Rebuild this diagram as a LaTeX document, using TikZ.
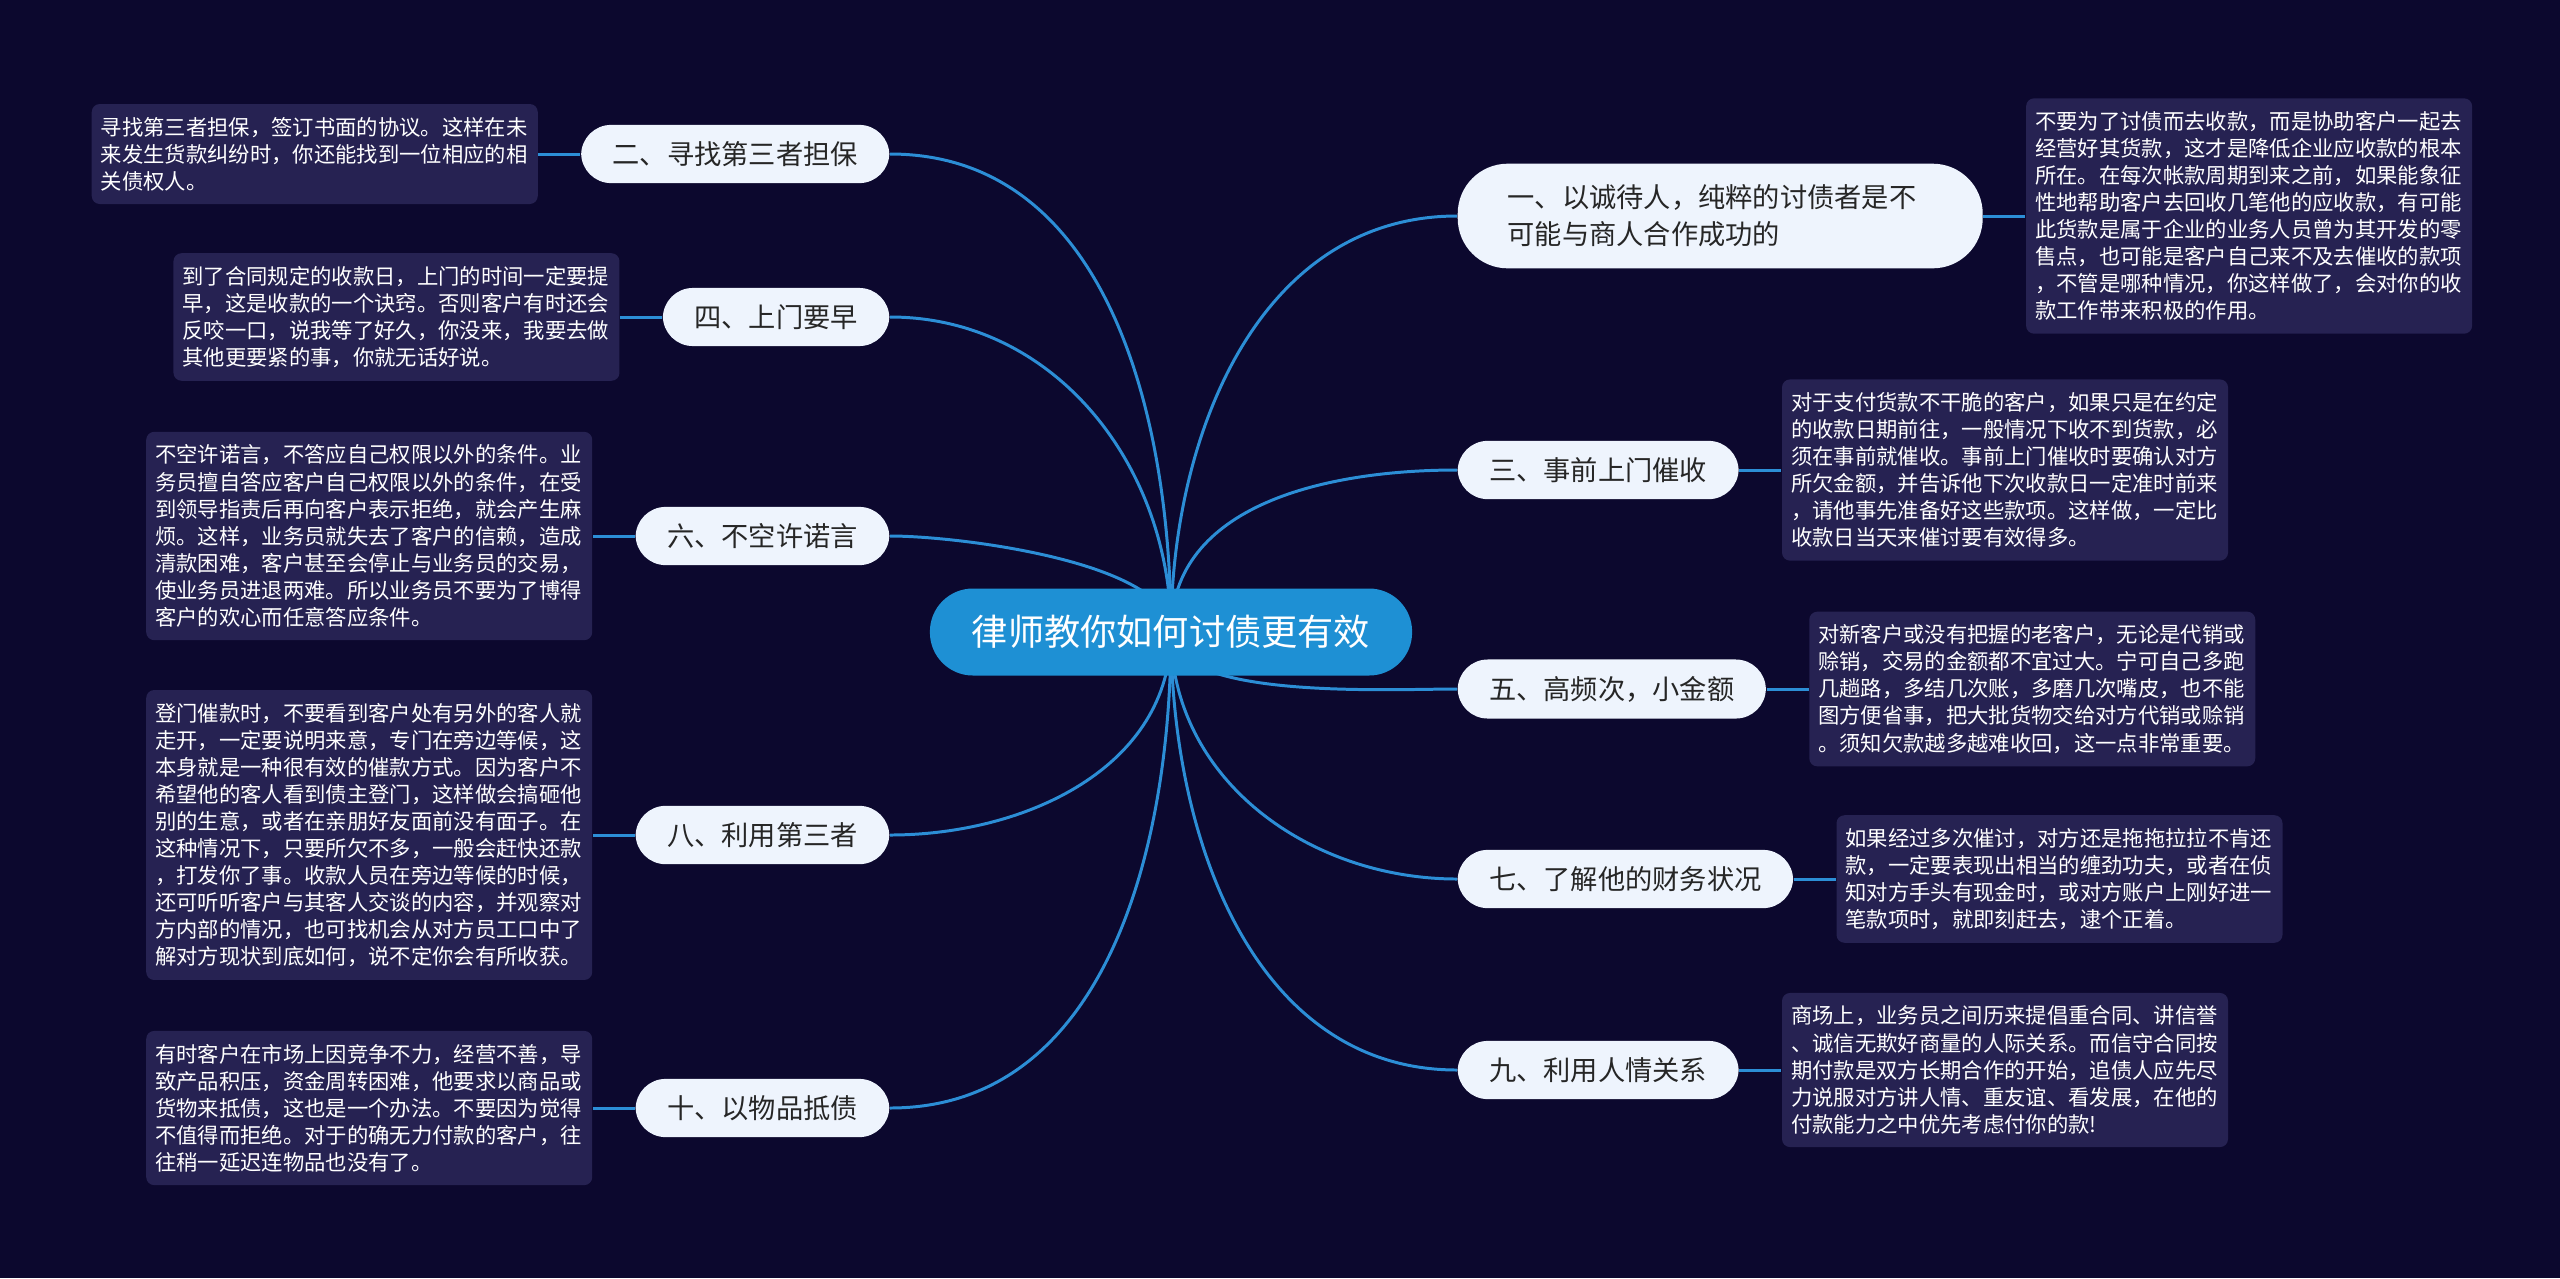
\documentclass[tikz,border=0pt]{standalone}
\usepackage{fontspec}
\newfontfamily\cjk{Noto Sans CJK SC}
\usepackage{tikz}
\usetikzlibrary{positioning}
\usetikzlibrary{backgrounds}

\definecolor{bgnavy}{RGB}{12,8,46}
\definecolor{rootblue}{RGB}{30,144,212}
\definecolor{linkblue}{RGB}{44,142,214}
\definecolor{topicpale}{RGB}{238,244,253}
\definecolor{notebox}{RGB}{38,34,82}

\begin{document}
\begin{tikzpicture}[
	root/.style={fill=rootblue, text=white, rounded corners=0.43cm, inner xsep=0.42cm, minimum height=0.87cm, font=\cjk\fontsize{10.3pt}{12pt}\selectfont},
	topic/.style={fill=topicpale, text=black!85, rounded corners=0.3cm, inner xsep=0.315cm, inner ysep=0.165cm, font=\cjk\fontsize{7.75pt}{10.6pt}\selectfont},
	note/.style={fill=notebox, text=white, rounded corners=0.08cm, text width=4.28cm, align=left, inner xsep=0.09cm, inner ysep=0.13cm, font=\cjk\fontsize{6.07pt}{7.7pt}\selectfont},
	link/.style={color=linkblue, line width=0.85pt},
	node distance=0.42cm
]
\useasboundingbox (0,0) rectangle (25.6,-12.78);

% centre
\node[root] (root) at (11.71,-6.32) {律师教你如何讨债更有效};

% left topics
\node[topic, anchor=east] (b2) at (8.90,-1.54) {二、寻找第三者担保};
\node[topic, anchor=east] (b4) at (8.90,-3.17) {四、上门要早};
\node[topic, anchor=east] (b6) at (8.90,-5.36) {六、不空许诺言};
\node[topic, anchor=east] (b8) at (8.90,-8.35) {八、利用第三者};
\node[topic, anchor=east] (b10) at (8.90,-11.08) {十、以物品抵债};

% right topics
\node[topic, anchor=west, text width=4.25cm, align=left, inner xsep=0.5cm, inner ysep=0.21cm, rounded corners=0.5cm] (b1) at (14.57,-2.16) {一、以诚待人，纯粹的讨债者是不\\可能与商人合作成功的};
\node[topic, anchor=west] (b3) at (14.57,-4.70) {三、事前上门催收};
\node[topic, anchor=west] (b5) at (14.57,-6.89) {五、高频次，小金额};
\node[topic, anchor=west] (b7) at (14.57,-8.79) {七、了解他的财务状况};
\node[topic, anchor=west] (b9) at (14.57,-10.70) {九、利用人情关系};

% notes
\node[note, left=of b2] (n2) {寻找第三者担保，签订书面的协议。这样在未\\来发生货款纠纷时，你还能找到一位相应的相\\关债权人。};
\node[note, left=of b4] (n4) {到了合同规定的收款日，上门的时间一定要提\\早，这是收款的一个诀窍。否则客户有时还会\\反咬一口，说我等了好久，你没来，我要去做\\其他更要紧的事，你就无话好说。};
\node[note, left=of b6] (n6) {不空许诺言，不答应自己权限以外的条件。业\\务员擅自答应客户自己权限以外的条件，在受\\到领导指责后再向客户表示拒绝，就会产生麻\\烦。这样，业务员就失去了客户的信赖，造成\\清款困难，客户甚至会停止与业务员的交易，\\使业务员进退两难。所以业务员不要为了博得\\客户的欢心而任意答应条件。};
\node[note, left=of b8] (n8) {登门催款时，不要看到客户处有另外的客人就\\走开，一定要说明来意，专门在旁边等候，这\\本身就是一种很有效的催款方式。因为客户不\\希望他的客人看到债主登门，这样做会搞砸他\\别的生意，或者在亲朋好友面前没有面子。在\\这种情况下，只要所欠不多，一般会赶快还款\\，打发你了事。收款人员在旁边等候的时候，\\还可听听客户与其客人交谈的内容，并观察对\\方内部的情况，也可找机会从对方员工口中了\\解对方现状到底如何，说不定你会有所收获。};
\node[note, left=of b10] (n10) {有时客户在市场上因竞争不力，经营不善，导\\致产品积压，资金周转困难，他要求以商品或\\货物来抵债，这也是一个办法。不要因为觉得\\不值得而拒绝。对于的确无力付款的客户，往\\往稍一延迟连物品也没有了。};
\node[note, right=of b1] (n1) {不要为了讨债而去收款，而是协助客户一起去\\经营好其货款，这才是降低企业应收款的根本\\所在。在每次帐款周期到来之前，如果能象征\\性地帮助客户去回收几笔他的应收款，有可能\\此货款是属于企业的业务人员曾为其开发的零\\售点，也可能是客户自己来不及去催收的款项\\，不管是哪种情况，你这样做了，会对你的收\\款工作带来积极的作用。};
\node[note, right=of b3] (n3) {对于支付货款不干脆的客户，如果只是在约定\\的收款日期前往，一般情况下收不到货款，必\\须在事前就催收。事前上门催收时要确认对方\\所欠金额，并告诉他下次收款日一定准时前来\\，请他事先准备好这些款项。这样做，一定比\\收款日当天来催讨要有效得多。};
\node[note, right=of b5] (n5) {对新客户或没有把握的老客户，无论是代销或\\赊销，交易的金额都不宜过大。宁可自己多跑\\几趟路，多结几次账，多磨几次嘴皮，也不能\\图方便省事，把大批货物交给对方代销或赊销\\。须知欠款越多越难收回，这一点非常重要。};
\node[note, right=of b7] (n7) {如果经过多次催讨，对方还是拖拖拉拉不肯还\\款，一定要表现出相当的缠劲功夫，或者在侦\\知对方手头有现金时，或对方账户上刚好进一\\笔款项时，就即刻赶去，逮个正着。};
\node[note, right=of b9] (n9) {商场上，业务员之间历来提倡重合同、讲信誉\\、诚信无欺好商量的人际关系。而信守合同按\\期付款是双方长期合作的开始，追债人应先尽\\力说服对方讲人情、重友谊、看发展，在他的\\付款能力之中优先考虑付你的款!};

\begin{scope}[on background layer]
\fill[bgnavy] (0,0) rectangle (25.6,-12.78);
%\path[link] (root) edge (b1)
\path[link]
(root.center) edge[out=90,in=180] (b1.west)
(root.center) edge[out=90,in=180] (b3.west)
(root.center) edge[out=-90,in=180,looseness=0.6] (b5.west)
(root.center) edge[out=-90,in=180] (b7.west)
(root.center) edge[out=-90,in=180] (b9.west)
(root.center) edge[out=90,in=0] (b2.east)
(root.center) edge[out=90,in=0] (b4.east)
(root.center) edge[out=90,in=0,looseness=0.6] (b6.east)
(root.center) edge[out=-90,in=0] (b8.east)
(root.center) edge[out=-90,in=0] (b10.east)
;
\path[link]
(b1.east) edge (n1.west)
(b3.east) edge (n3.west)
(b5.east) edge (n5.west)
(b7.east) edge (n7.west)
(b9.east) edge (n9.west)
(b2.west) edge (n2.east)
(b4.west) edge (n4.east)
(b6.west) edge (n6.east)
(b8.west) edge (n8.east)
(b10.west) edge (n10.east)
;
\end{scope}
\end{tikzpicture}
\end{document}
